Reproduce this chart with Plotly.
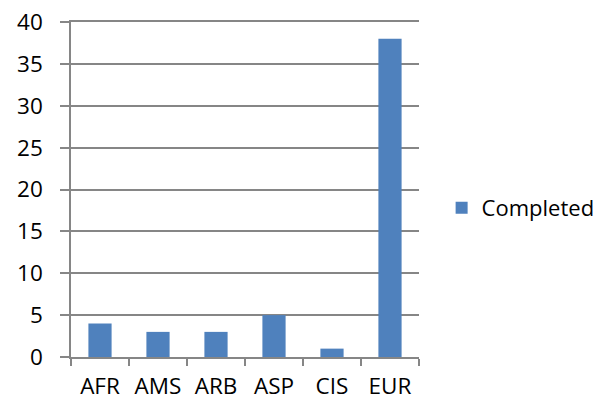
import plotly.graph_objects as go

categories = ["AFR", "AMS", "ARB", "ASP", "CIS", "EUR"]
completed = [4, 3, 3, 5, 1, 38]
series_name = "Completed"
y_ticks = [0, 5, 10, 15, 20, 25, 30, 35, 40]

FONT = "Open Sans"
GRID = "#868686"
FS = 22.5

fig = go.Figure()
fig.add_trace(go.Bar(
    x=categories, y=completed, name=series_name,
    marker=dict(color="#4F81BD", line=dict(width=0)),
    showlegend=True,
))

# page body has an 8px margin, so the figure is offset by 8px in the window
fig.update_layout(
    width=595, height=393,
    margin=dict(l=63, r=184, t=14, b=44, autoexpand=False),
    paper_bgcolor="white", plot_bgcolor="white",
    font=dict(family=FONT, size=FS, color="#000000"),
    bargap=0.6,
    showlegend=True,
    legend=dict(x=1.065, y=0.445, xanchor="left", yanchor="middle",
                font=dict(family=FONT, size=22, color="#000000"),
                bgcolor="rgba(0,0,0,0)", itemwidth=30),
)
fig.update_xaxes(
    automargin=False, ticklabeloverflow="allow",
    showline=True, linecolor=GRID, linewidth=1.5, mirror=True,
    ticks="outside", tickson="boundaries", ticklen=7, tickcolor=GRID, tickwidth=1.5,
    showgrid=False, ticklabelstandoff=8,
)
fig.update_yaxes(
    automargin=False, ticklabeloverflow="allow",
    range=[0, 40], tickvals=y_ticks,
    showline=True, linecolor=GRID, linewidth=1.5,
    ticks="outside", ticklen=9, tickcolor=GRID, tickwidth=1.5,
    showgrid=True, gridcolor=GRID, gridwidth=1.5,
    zeroline=False, ticklabelstandoff=13,
)

fig.write_html("out.html")
